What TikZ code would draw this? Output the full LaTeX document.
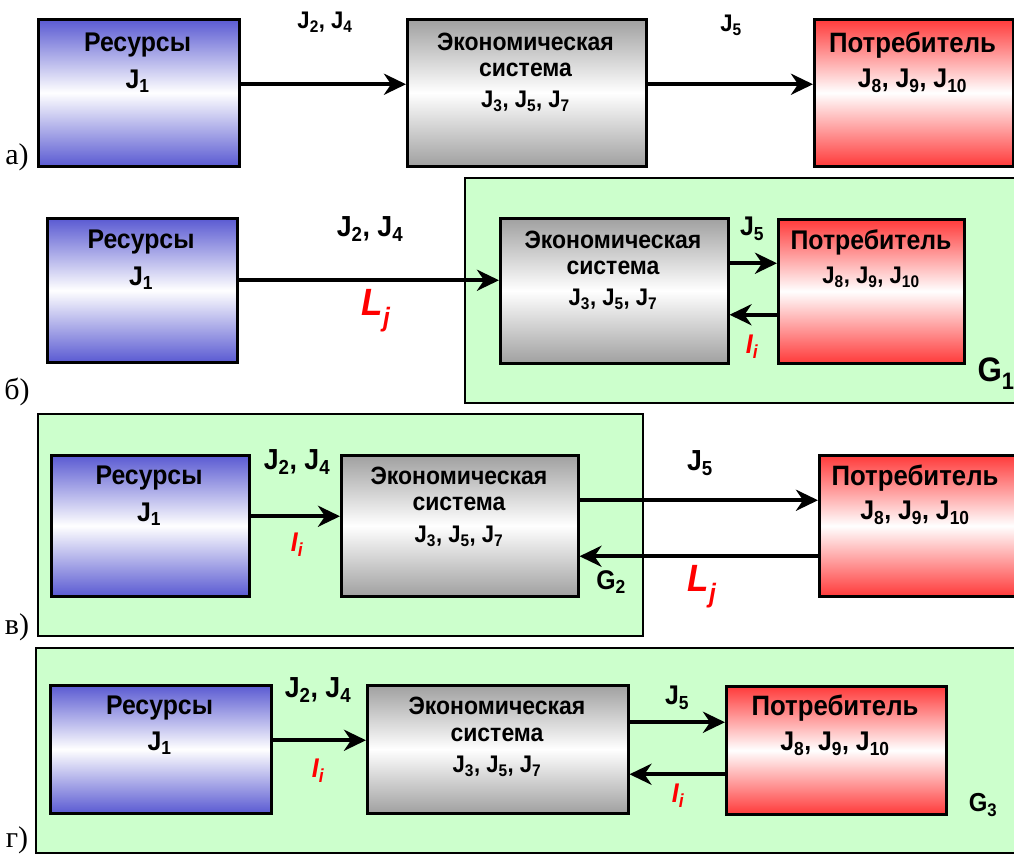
\documentclass[tikz,border=0pt]{standalone}
\usepackage{fontspec}
\setmainfont{Liberation Serif}
\newfontfamily\dsans[FakeStretch=0.92]{Liberation Sans}
\usetikzlibrary{arrows.meta}
\definecolor{resblue}{HTML}{5A5AD2}
\definecolor{ecogray}{HTML}{A0A0A0}
\definecolor{conred}{HTML}{FF3A3A}
\definecolor{grpgreen}{HTML}{CCFFCC}
\newcommand{\J}[1]{J\textsubscript{#1}}
\tikzset{
  box/.style={draw=black, line width=2.5pt, anchor=north west, inner sep=0pt},
  res/.style={box, top color=resblue, bottom color=resblue, middle color=white},
  eco/.style={box, top color=ecogray, bottom color=ecogray, middle color=white},
  con/.style={box, top color=conred, bottom color=conred, middle color=white},
  grp/.style={draw=black, line width=1.5pt, fill=grpgreen, anchor=north west, inner sep=0pt},
  arr/.style={line width=4.2pt, -{Stealth[length=22pt,width=21pt,inset=7pt]}},
  fs/.style={font=\dsans\bfseries\fontsize{#1}{#1}\selectfont, inner sep=0pt},
  tbig/.style={fs=27},
  tcon/.style={fs=28},
  tmid/.style={fs=25},
  tj/.style={fs=27},
  tjs/.style={fs=24},
  red/.style={font=\dsans\bfseries\itshape\fontsize{27}{28}\selectfont, text=red, inner sep=0pt},
  redbig/.style={font=\dsans\bfseries\itshape\fontsize{38}{38}\selectfont, text=red, inner sep=0pt},
  tag/.style={font=\fontsize{30}{30}\selectfont, inner sep=0pt},
}
\begin{document}
\begin{tikzpicture}[x=1pt,y=-1pt]
\useasboundingbox (0,0) rectangle (1014,855);
% ---------- a)
\node[res, minimum width=201pt, minimum height=147pt] (r1) at (37,18) {};
\node[eco, minimum width=239pt, minimum height=147pt] (e1) at (406,18) {};
\node[con, minimum width=199pt, minimum height=147pt] (c1) at (813,18) {};
\node[tbig] at (137.5,45) {Ресурсы};
\node[tj] at (137.5,81) {\J{1}};
\node[tmid] at (525.5,42) {Экономическая};
\node[tmid] at (525.5,70) {система};
\node[tjs] at (525.5,101) {\J{3}, \J{5}, \J{7}};
\node[tcon] at (912.5,45) {Потребитель};
\node[tj] at (912.5,81) {\J{8}, \J{9}, \J{10}};
\coordinate (pa1) at ([yshift=8.5pt]r1.east);
\coordinate (pa2) at ([yshift=8.5pt]e1.east);
\draw[arr] (pa1) -- (pa1 -| e1.west);
\draw[arr] (pa2) -- (pa2 -| c1.west);
\node[tjs] at (325,22) {\J{2}, \J{4}};
\node[tjs] at (731,25) {\J{5}};
\node[tag] at (17,157) {а)};
% ---------- б)
\node[grp, minimum width=560pt, minimum height=225pt] (g1) at (464,177) {};
\node[res, minimum width=190pt, minimum height=144pt] (r2) at (46,217) {};
\node[eco, minimum width=228pt, minimum height=145pt] (e2) at (499,217) {};
\node[con, minimum width=186pt, minimum height=144pt] (c2) at (777,218) {};
\node[tbig] at (141,242) {Ресурсы};
\node[tj] at (141,278) {\J{1}};
\node[tmid] at (613,240) {Экономическая};
\node[tmid] at (613,268) {система};
\node[tjs] at (613,299) {\J{3}, \J{5}, \J{7}};
\node[fs=27] at (871,242) {Потребитель};
\node[tjs] at (871,277) {\J{8}, \J{9}, \J{10}};
\coordinate (pb1) at ([yshift=10pt]r2.east);
\coordinate (pb2) at ([yshift=27.5pt]e2.east);
\coordinate (pb3) at ([yshift=-23.5pt]c2.west);
\draw[arr] (pb1) -- (pb1 -| e2.west);
\draw[arr] (pb2) -- (pb2 -| c2.west);
\draw[arr] (pb3) -- (pb3 -| e2.east);
\node[fs=29] at (370,229) {\J{2}, \J{4}};
\node[redbig] at (376,311) {L\textsubscript{j}};
\node[tj] at (752,229) {\J{5}};
\node[red] at (752,347) {I\textsubscript{i}};
\node[fs=34] at (996,374) {G\textsubscript{1}};
\node[tag] at (17,392) {б)};
% ---------- в)
\node[grp, minimum width=605pt, minimum height=222pt] (g2) at (37,413) {};
\node[res, minimum width=198pt, minimum height=141pt] (r3) at (50,454) {};
\node[eco, minimum width=237pt, minimum height=141pt] (e3) at (340,454) {};
\node[con, minimum width=196pt, minimum height=141pt] (c3) at (818,454) {};
\node[tbig] at (149,478) {Ресурсы};
\node[tj] at (149,514) {\J{1}};
\node[tmid] at (459,476) {Экономическая};
\node[tmid] at (459,504) {система};
\node[tjs] at (459,536) {\J{3}, \J{5}, \J{7}};
\node[tcon] at (915,478) {Потребитель};
\node[tj] at (915,513) {\J{8}, \J{9}, \J{10}};
\coordinate (pc1) at ([yshift=9.5pt]r3.east);
\coordinate (pc2) at ([yshift=25.5pt]e3.east);
\coordinate (pc3) at ([yshift=-30.5pt]c3.west);
\draw[arr] (pc1) -- (pc1 -| e3.west);
\draw[arr] (pc2) -- (pc2 -| c3.west);
\draw[arr] (pc3) -- (pc3 -| e3.east);
\node[fs=29] at (297,462) {\J{2}, \J{4}};
\node[red] at (297,545) {I\textsubscript{i}};
\node[fs=29] at (700,463) {\J{5}};
\node[fs=27] at (611,582) {G\textsubscript{2}};
\node[redbig] at (702,587) {L\textsubscript{j}};
\node[tag] at (17,627) {в)};
% ---------- г)
\node[grp, minimum width=990pt, minimum height=205pt] (g3) at (35,647) {};
\node[res, minimum width=221pt, minimum height=128pt] (r4) at (49,684) {};
\node[eco, minimum width=261pt, minimum height=128pt] (e4) at (366,684) {};
\node[con, minimum width=220pt, minimum height=128pt] (c4) at (725,685) {};
\node[tbig] at (159.5,708) {Ресурсы};
\node[tj] at (159.5,743) {\J{1}};
\node[tmid] at (497,706) {Экономическая};
\node[tmid] at (497,735) {система};
\node[tjs] at (497,766) {\J{3}, \J{5}, \J{7}};
\node[tcon] at (835,708) {Потребитель};
\node[tj] at (835,744) {\J{8}, \J{9}, \J{10}};
\coordinate (pd1) at ([yshift=9pt]r4.east);
\coordinate (pd2) at ([yshift=27pt]e4.east);
\coordinate (pd3) at ([yshift=-24pt]c4.west);
\draw[arr] (pd1) -- (pd1 -| e4.west);
\draw[arr] (pd2) -- (pd2 -| c4.west);
\draw[arr] (pd3) -- (pd3 -| e4.east);
\node[fs=29] at (318,690) {\J{2}, \J{4}};
\node[red] at (318,771) {I\textsubscript{i}};
\node[fs=27] at (677,698) {\J{5}};
\node[red] at (678,796) {I\textsubscript{i}};
\node[fs=26] at (983,805) {G\textsubscript{3}};
\node[tag] at (17,840) {г)};
\end{tikzpicture}
\end{document}
